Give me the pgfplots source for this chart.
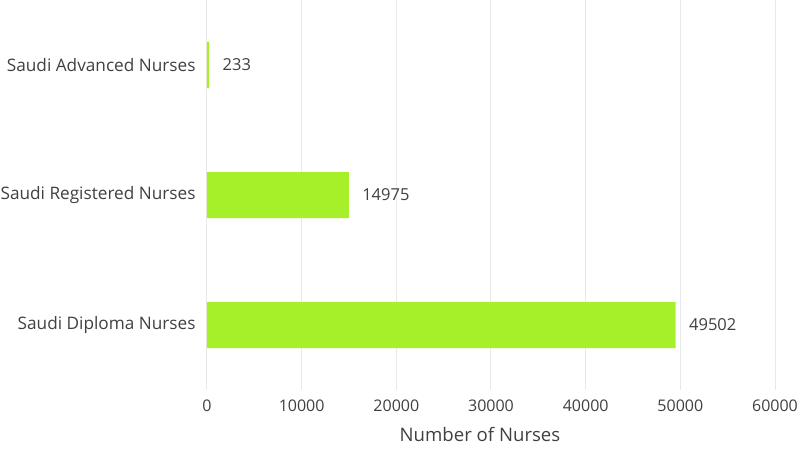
\documentclass[border=0pt]{standalone}
\usepackage{pgfplots}
\pgfplotsset{compat=1.18}
\usepackage{fontspec}
\setmainfont{Open Sans}
\definecolor{barg}{HTML}{A6F02A}
\definecolor{txt}{HTML}{404040}
\definecolor{grd}{HTML}{E8E8E8}
\begin{document}
\begin{tikzpicture}
\begin{axis}[
  scale only axis,
  width=568pt, height=390pt,
  at={(0pt,0pt)}, anchor=south west,
  xbar, bar width=46pt,
  xmin=0, xmax=60000,
  ymin=-0.5, ymax=2.5,
  ytick={0,1,2},
  yticklabels={Saudi Diploma Nurses, Saudi Registered Nurses, Saudi Advanced Nurses},
  xtick={0,10000,20000,30000,40000,50000,60000},
  axis line style={draw=none},
  major tick length=0pt,
  xmajorgrids, grid style={grd, line width=1pt},
  /pgf/number format/assume math mode=true,
  /pgf/number format/set thousands separator={},
  /pgf/number format/fixed,
  scaled x ticks=false,
  tick label style={font=\fontsize{16}{19}\selectfont, text=txt},
  xticklabel style={yshift=-6pt},
  yticklabel style={xshift=-8pt, font=\fontsize{17.2}{20}\selectfont},
  xlabel={Number of Nurses},
  xlabel style={font=\fontsize{18.6}{22}\selectfont, text=txt, yshift=-9pt, xshift=-11pt},
  nodes near coords,
  nodes near coords style={font=\fontsize{16.5}{19}\selectfont, text=txt, anchor=west, xshift=10pt},
]
\addplot[fill=barg, draw=none] coordinates {(49502,0) (14975,1) (233,2)};
\end{axis}
\pgfresetboundingbox
\path[use as bounding box] (-207pt,-60pt) rectangle (590pt,390pt);
\end{tikzpicture}
\end{document}
